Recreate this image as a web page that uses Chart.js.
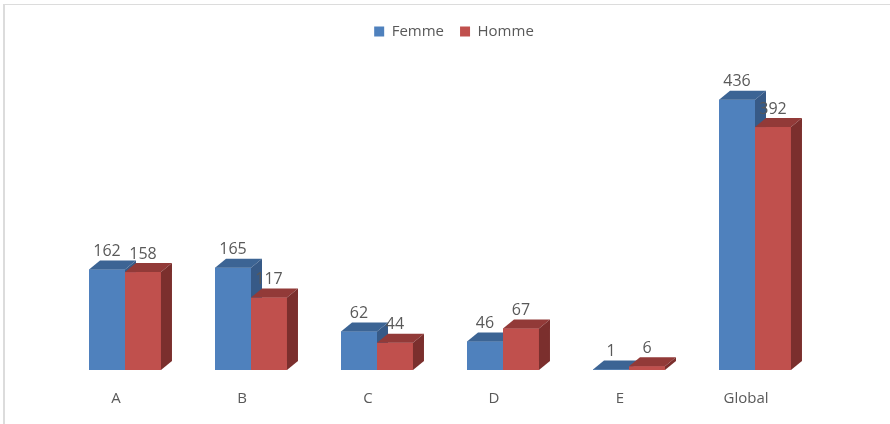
<!DOCTYPE html>
<html>
<head>
<meta charset="utf-8">
<script src="https://cdn.jsdelivr.net/npm/chart.js@4.4.1/dist/chart.umd.min.js"></script>
<style>
  html, body { margin: 0; padding: 0; background: #fff; }
  #wrap { position: relative; width: 890px; height: 424px; }
  #frame { position: absolute; left: 3px; top: 4px; right: 0; bottom: 0;
           border-left: 2px solid #dcdcdc; border-top: 1px solid #dcdcdc; pointer-events: none; }
</style>
</head>
<body>
<div id="wrap">
  <canvas id="chart" width="890" height="424"></canvas>
  <div id="frame"></div>
</div>
<script>
var categories = ["A", "B", "C", "D", "E", "Global"];
var femme = [162, 165, 62, 46, 1, 436];
var homme = [158, 117, 44, 67, 6, 392];

var depthX = 11, depthY = 9;

// front, top and side shades for the fake 3d boxes
var shades = [
  { front: "#4f81bd", top: "#3c6494", side: "#375a87" },
  { front: "#c0504d", top: "#923a38", side: "#7b2f2d" }
];

var boxes3d = {
  id: "boxes3d",
  afterDatasetsDraw: function(chart) {
    var ctx = chart.ctx;
    ctx.save();
    chart.data.datasets.forEach(function(ds, i) {
      var meta = chart.getDatasetMeta(i);
      var c = shades[i];
      meta.data.forEach(function(bar, j) {
        var p = bar.getProps(["x", "y", "base", "width"], true);
        var l = p.x - p.width / 2, r = p.x + p.width / 2;
        // front
        ctx.fillStyle = c.front;
        ctx.fillRect(l, p.y, p.width, p.base - p.y);
        // top
        ctx.fillStyle = c.top;
        ctx.beginPath();
        ctx.moveTo(l, p.y);
        ctx.lineTo(l + depthX, p.y - depthY);
        ctx.lineTo(r + depthX, p.y - depthY);
        ctx.lineTo(r, p.y);
        ctx.closePath();
        ctx.fill();
        // side
        ctx.fillStyle = c.side;
        ctx.beginPath();
        ctx.moveTo(r, p.y);
        ctx.lineTo(r + depthX, p.y - depthY);
        ctx.lineTo(r + depthX, p.base - depthY);
        ctx.lineTo(r, p.base);
        ctx.closePath();
        ctx.fill();
      });
    });
    // value labels
    ctx.fillStyle = "#595959";
    ctx.font = "16px 'Open Sans', sans-serif";
    ctx.textAlign = "center";
    ctx.textBaseline = "bottom";
    chart.data.datasets.forEach(function(ds, i) {
      chart.getDatasetMeta(i).data.forEach(function(bar, j) {
        ctx.fillText(String(ds.data[j]), bar.x, bar.y - depthY - 1);
      });
    });
    ctx.restore();
  }
};

new Chart(document.getElementById("chart").getContext("2d"), {
  type: "bar",
  data: {
    labels: categories,
    datasets: [
      { label: "Femme", data: femme, backgroundColor: shades[0].front },
      { label: "Homme", data: homme, backgroundColor: shades[1].front }
    ]
  },
  options: {
    responsive: false,
    animation: false,
    categoryPercentage: 0.571,
    barPercentage: 1,
    layout: { padding: { left: 62, right: 44, top: 8, bottom: 4 } },
    plugins: {
      legend: {
        position: "top",
        labels: {
          boxWidth: 10, boxHeight: 10, padding: 16,
          color: "#595959",
          font: { family: "'Open Sans', sans-serif", size: 15 }
        }
      },
      tooltip: { enabled: false }
    },
    scales: {
      x: {
        grid: { display: false },
        border: { display: false },
        ticks: {
          color: "#595959",
          padding: 12,
          labelOffset: -9,
          font: { family: "'Open Sans', sans-serif", size: 15 }
        }
      },
      y: {
        position: "right",
        min: 0,
        max: 518,
        grid: { display: false },
        border: { display: false },
        ticks: { display: false },
        // empty strip on the right keeps room for the box depth
        afterFit: function(scale) { scale.width = 28; }
      }
    }
  },
  plugins: [boxes3d]
});
</script>
</body>
</html>
